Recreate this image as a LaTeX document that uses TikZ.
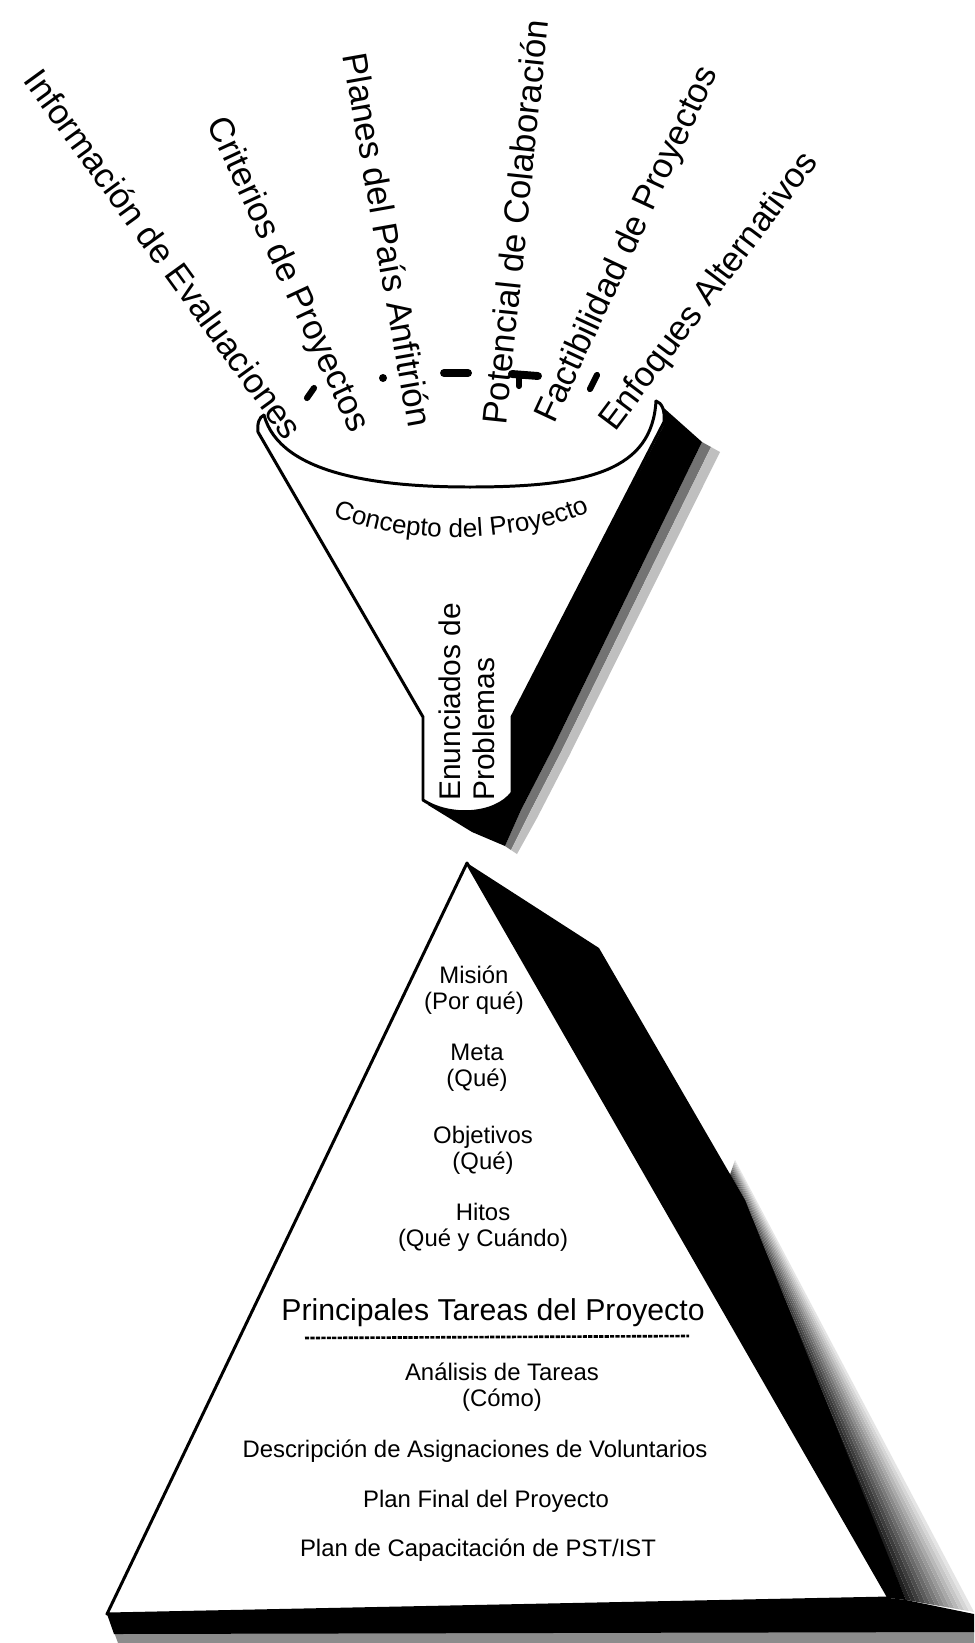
\documentclass[tikz,border=0pt]{standalone}
\usepackage{fontspec}
\setmainfont{Liberation Sans}
\usetikzlibrary{calc,decorations.text}

\newcommand{\conceptfont}{\fontsize{14.8}{16}\selectfont}

\begin{document}
\begin{tikzpicture}[
    x=0.02cm, y=-0.02cm,
    feed/.style={font=\fontsize{19.8}{22}\selectfont, inner sep=0pt},
    level/.style={font=\fontsize{13.6}{14.7}\selectfont, align=center, inner sep=0pt},
    mainLevel/.style={font=\fontsize{17.2}{19}\selectfont, inner sep=0pt},
    stemText/.style={font=\fontsize{17}{19.3}\selectfont, align=left, inner sep=0pt, rotate=90, anchor=west},
    outline/.style={draw=black, line width=1.7pt, line join=round, line cap=round},
    scratch/.style={line width=3.5pt, line cap=round},
    dotrule/.style={line width=1.5pt, dash pattern=on 2.4pt off 0.7pt}
]

% Page
\fill[white] (0,0) rectangle (974,1643);
\useasboundingbox (0,0) rectangle (974,1643);

% Funnel shadow
\fill[black!55] (702,442) -- (711,447) -- (561,752) -- (529,814) -- (511,850) -- (505,846) -- (521,810) -- (553,748) -- cycle;
\fill[black!25] (711,447) -- (720,452) -- (569,756) -- (537,818) -- (517,854) -- (511,850) -- (529,814) -- (561,752) -- cycle;
\fill[black] (656,401) -- (702,442) -- (553,748) -- (521,810) -- (505,846) -- (472,832) -- (428,805) -- (512,780) -- (512,717) -- (664,425) -- cycle;

% Funnel body
\fill[white] (264,415) .. controls (259,417) and (257,424) .. (258,432) -- (423,717) -- (423,800)
    .. controls (450,818) and (495,815) .. (512,793) -- (512,717) -- (664,422)
    .. controls (665,410) and (662,403) .. (656,401) -- cycle;
\draw[outline] (264,415) .. controls (259,417) and (257,424) .. (258,432) -- (423,717) -- (423,800)
    .. controls (450,818) and (495,815) .. (512,793) -- (512,717) -- (664,422)
    .. controls (665,410) and (662,403) .. (656,401);
% Rim
\draw[outline] (264,415) .. controls (280,475) and (380,487) .. (470,487)
    .. controls (590,487) and (652,470) .. (656,401);

% Funnel texts
\path[decorate, decoration={text along path, text align=center,
    text={|\conceptfont|Concepto del Proyecto}}]
    (315,508) .. controls (395,548) and (525,548) .. (607,503);
\node[stemText] (problemas) at (467,801) {Enunciados de\\Problemas};

% Inputs
\node[feed, rotate=-54] (evaluaciones) at (164,254) {Información de Evaluaciones};
\node[feed, rotate=-65] (criterios) at (287,275) {Criterios de Proyectos};
\node[feed, rotate=-80] (planes) at (388,240) {Planes del País Anfitrión};
\node[feed, rotate=84] (potencial) at (515,222) {Potencial de Colaboración};
\node[feed, rotate=65] (factibilidad) at (628,245) {Factibilidad de Proyectos};
\node[feed, rotate=53] (enfoques) at (710,292) {Enfoques Alternativos};

% Marks above the rim
\draw[scratch] (307,398) -- (314,388);
\fill (383,378) circle[radius=4];
\draw[scratch, line width=4.5pt] (444,373) -- (468,373);
\draw[scratch, line width=4.5pt] (512,374) -- (538,376);
\draw[scratch] (519,378) -- (519,386);
\draw[scratch] (590,389) -- (597,375);

% Pyramid shadow
\coordinate (fadeIt) at (730,1175);
\coordinate (fadeOt) at (735,1160);
\coordinate (fadeIb) at (906,1600);
\coordinate (fadeOb) at (974,1612);
\foreach \i in {0,...,13}{
  \pgfmathsetmacro{\ta}{\i/14}
  \pgfmathsetmacro{\tb}{(\i+1)/14}
  \pgfmathtruncatemacro{\grayval}{88-6*\i}
  \fill[black!\grayval] ($(fadeIt)!\ta!(fadeOt)$) -- ($(fadeIt)!\tb!(fadeOt)$)
      -- ($(fadeIb)!\tb!(fadeOb)$) -- ($(fadeIb)!\ta!(fadeOb)$) -- cycle;
}
\fill[black] (467,863) -- (599,948) -- (745,1200) -- (906,1600) -- (889,1598) -- cycle;
\fill[black!45] (114,1632) -- (974,1630) -- (974,1643) -- (118,1643) -- cycle;
\fill[black] (107,1614) -- (889,1598) -- (906,1600) -- (974,1614) -- (974,1632) -- (114,1634) -- cycle;

% Pyramid face
\filldraw[outline, fill=white] (467,863) -- (107,1614) -- (889,1598) -- cycle;

% Levels
\node[level] (mision) at (474,990) {Misión\\(Por qué)};
\node[level] (meta) at (477,1068) {Meta\\(Qué)};
\node[level] (objetivos) at (483,1150) {Objetivos\\(Qué)};
\node[level] (hitos) at (483,1227) {Hitos\\(Qué y Cuándo)};
\node[mainLevel] (tareas) at (493,1313) {Principales Tareas del Proyecto};

\coordinate (ruleL) at (305,1338);
\coordinate (ruleR) at (689,1336);
\draw[dotrule] (ruleL) -- (ruleR);

\node[level] (analisis) at (502,1387) {Análisis de Tareas\\(Cómo)};
\node[level] (descripcion) at (475,1451) {Descripción de Asignaciones de Voluntarios};
\node[level] (planfinal) at (486,1501) {Plan Final del Proyecto};
\node[level] (capacitacion) at (478,1550) {Plan de Capacitación de PST/IST};

\end{tikzpicture}
\end{document}
